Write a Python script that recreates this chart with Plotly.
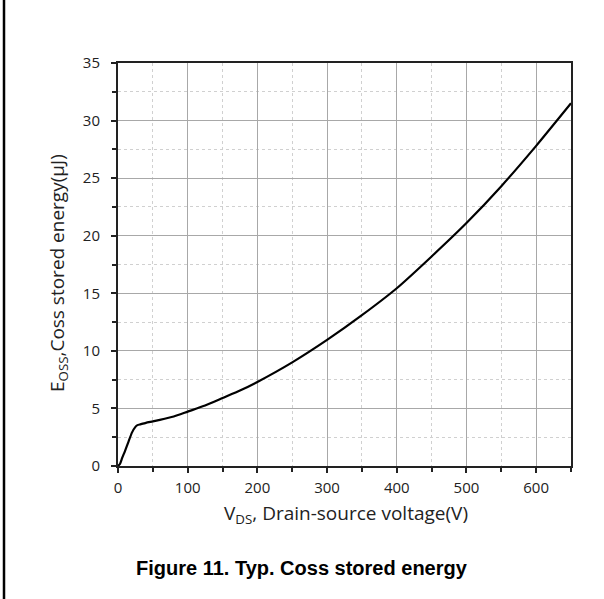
import plotly.graph_objects as go

# Data
vds = [0, 3, 6, 10, 15, 20, 25, 28, 32, 40, 50, 60, 80, 100, 125, 150, 175, 200,
       250, 300, 350, 400, 450, 500, 550, 600, 650]
eoss = [0, 0.2, 0.7, 1.3, 2.1, 2.9, 3.4, 3.55, 3.62, 3.75, 3.87, 4.0, 4.3, 4.72,
        5.25, 5.9, 6.55, 7.3, 9.0, 10.95, 13.1, 15.44, 18.2, 21.1, 24.3, 27.8, 31.5]

x_ticks = [0, 100, 200, 300, 400, 500, 600]
y_ticks = [0, 5, 10, 15, 20, 25, 30, 35]

W, H = 604, 599
L, R, T, B = 118, 33, 63, 133
pw, ph = W - L - R, H - T - B

fig = go.Figure()
fig.add_trace(go.Scatter(x=vds, y=eoss, mode="lines",
                         line=dict(color="black", width=2.2, shape="spline", smoothing=0.5),
                         showlegend=False, hoverinfo="skip"))

tickfont = dict(family="Open Sans", size=15, color="#222")
common = dict(
    showline=True, linecolor="#222", linewidth=2, mirror=True,
    ticks="outside", ticklen=5, tickwidth=1.5, tickcolor="#222",
    showgrid=True, gridcolor="#a8a8a8", gridwidth=1,
    zeroline=False, tickfont=tickfont,
    minor=dict(ticks="outside", ticklen=4, tickwidth=1.5, tickcolor="#222",
               showgrid=True, gridcolor="#d0d0d0", griddash="dot", gridwidth=1),
)

fig.update_xaxes(range=[0, 650], tickvals=x_ticks, ticklabelstandoff=2, **common)
fig.update_yaxes(range=[0, 35], tickvals=y_ticks, ticklabelstandoff=8, **common)
fig.update_xaxes(minor=dict(tickvals=[50, 150, 250, 350, 450, 550, 650]))
fig.update_yaxes(minor=dict(tickvals=[2.5, 7.5, 12.5, 17.5, 22.5, 27.5, 32.5]))

# Axis titles as annotations
fig.add_annotation(xref="paper", yref="paper", x=(346 - L) / pw, y=-(514 - (T + ph)) / ph,
                   text="V<sub>DS</sub>, Drain-source voltage(V)", showarrow=False,
                   font=dict(family="Open Sans", size=19, color="#222"),
                   xanchor="center", yanchor="middle")
fig.add_annotation(xref="paper", yref="paper", x=(58 - L) / pw, y=(T + ph - 273) / ph,
                   text="E<sub>OSS</sub>,Coss stored energy(μJ)", showarrow=False, textangle=-90,
                   font=dict(family="Open Sans", size=19, color="#222"),
                   xanchor="center", yanchor="middle")
fig.add_annotation(xref="paper", yref="paper", x=(302 - L) / pw, y=-(568 - (T + ph)) / ph,
                   text="<b>Figure 11. Typ. Coss stored energy</b>", showarrow=False,
                   font=dict(family="Liberation Sans", size=20, color="black"),
                   xanchor="center", yanchor="middle")

# Left page border line
fig.add_shape(type="line", xref="paper", yref="paper",
              x0=(4 - L) / pw, x1=(4 - L) / pw, y0=-B / ph, y1=1 + T / ph,
              line=dict(color="black", width=2.5))

fig.update_layout(width=W, height=H, margin=dict(l=L, r=R, t=T, b=B),
                  paper_bgcolor="white", plot_bgcolor="white")

fig.write_html("out.html", config={"displayModeBar": False},
               post_script="document.body.style.margin='0px';document.body.style.padding='0px';")
